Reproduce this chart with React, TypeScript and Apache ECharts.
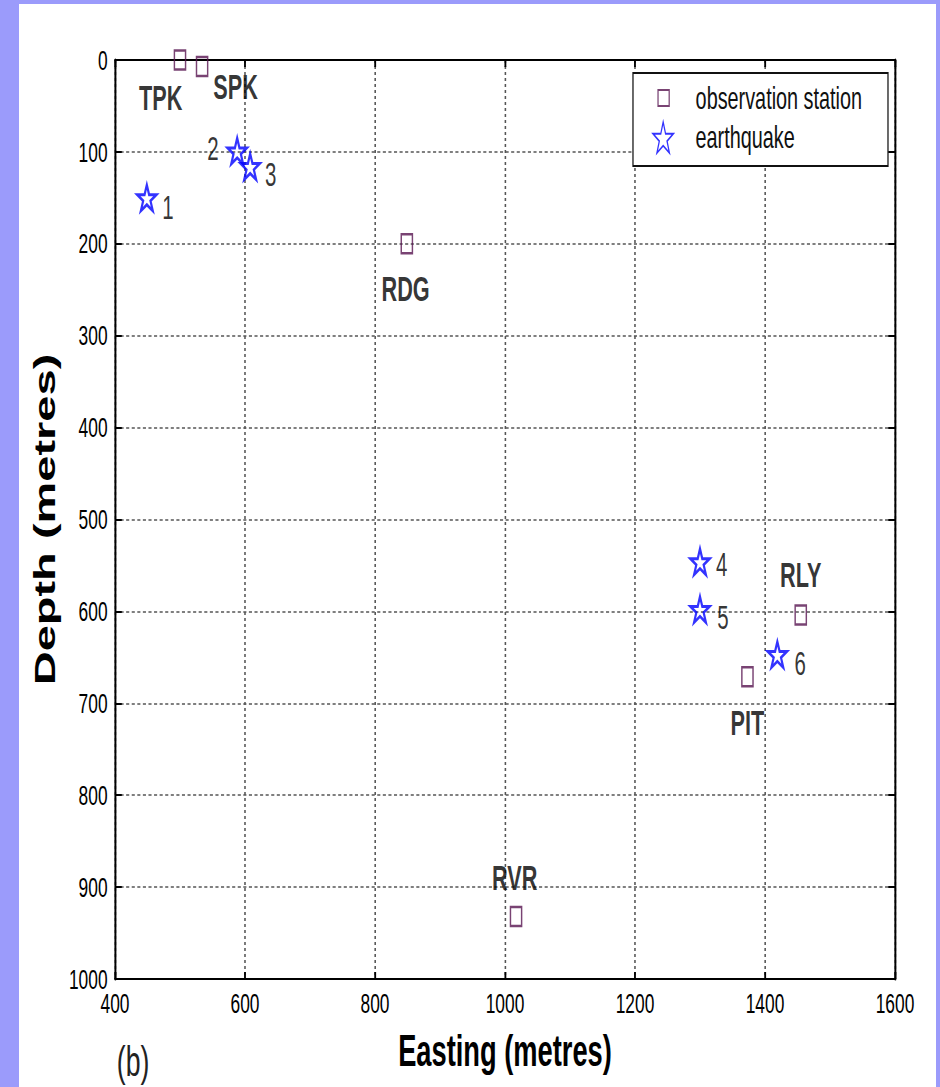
import React, { useEffect, useRef } from "react";
import * as echarts from "echarts";

// Observation stations: easting (m) and depth (m)
const stationNames = ["TPK", "SPK", "RDG", "RLY", "PIT", "RVR"];
const stationEasting = [500, 534, 849, 1455, 1373, 1017];
const stationDepth = [0, 7, 200, 604, 671, 932];

// Located earthquakes: easting (m) and depth (m)
const quakeNames = ["1", "2", "3", "4", "5", "6"];
const quakeEasting = [449, 588, 608, 1300, 1300, 1419];
const quakeDepth = [150, 99, 116, 546, 598, 647];

// Axis ranges / tick steps
const eastingRange = [400, 1600];
const eastingStep = 200;
const depthRange = [0, 1000];
const depthStep = 100;

// Label placement (offset from marker centre, chart px)
const stationLabelOffset: [number, number][] = [
  [-31, 38],
  [54, 21],
  [-2, 45],
  [0, -40],
  [0, 46],
  [-2, -39],
];
const quakeLabelOffset: [number, number][] = [
  [34, 10],
  [-39, -2],
  [33, 8],
  [35, 3],
  [37, 8],
  [37, 9],
];

// The figure is drawn in a wider canvas and squeezed horizontally
const SQUEEZE = 0.62;
const FRAME_W = 917;
const FRAME_H = 1083;
const CHART_W = FRAME_W / SQUEEZE;

const FONT = "'Liberation Sans', Arial, Helvetica, sans-serif";
const STAR =
  "path://M50 0 L61.23 34.55 L97.55 34.55 L68.17 55.9 L79.39 90.45 L50 69.1 L20.61 90.45 L31.83 55.9 L2.45 34.55 L38.77 34.55 Z";

const plainNumber = (v: number) => String(v);

export default function App() {
  const ref = useRef<HTMLDivElement>(null);

  useEffect(() => {
    if (!ref.current) return;
    const chart = echarts.init(ref.current, undefined, { renderer: "svg" });

    const gridLeft = 154.8;
    const gridRight = 66.1;
    const gridTop = 56;
    const gridBottom = 108;

    const axisLineH = { show: true, onZero: false, lineStyle: { color: "#000", width: 2 } };
    const axisLineV = { show: true, onZero: false, lineStyle: { color: "#000", width: 3.2 } };

    chart.setOption({
      animation: false,
      backgroundColor: "#ffffff",
      grid: { left: gridLeft, right: gridRight, top: gridTop, bottom: gridBottom },
      xAxis: [
        {
          type: "value",
          position: "bottom",
          min: eastingRange[0],
          max: eastingRange[1],
          interval: eastingStep,
          axisLine: axisLineH,
          axisTick: { show: true, inside: true, length: 7, lineStyle: { color: "#000", width: 3 } },
          axisLabel: { fontSize: 28, color: "#000", margin: 10, fontFamily: FONT, formatter: plainNumber },
          splitLine: { show: true, lineStyle: { color: "#555", type: [3, 3], width: 2.5 } },
          name: "Easting (metres)",
          nameLocation: "middle",
          nameGap: 50,
          nameTextStyle: { fontSize: 44, fontWeight: "bold", color: "#000", fontFamily: FONT },
        },
        {
          type: "value",
          position: "top",
          min: eastingRange[0],
          max: eastingRange[1],
          interval: eastingStep,
          axisLine: axisLineH,
          axisTick: { show: true, inside: true, length: 7, lineStyle: { color: "#000", width: 3 } },
          axisLabel: { show: false },
          splitLine: { show: false },
        },
      ],
      yAxis: [
        {
          type: "value",
          position: "left",
          inverse: true,
          min: depthRange[0],
          max: depthRange[1],
          interval: depthStep,
          axisLine: axisLineV,
          axisTick: { show: true, inside: true, length: 11, lineStyle: { color: "#000", width: 2 } },
          axisLabel: { fontSize: 28, color: "#000", margin: 12, fontFamily: FONT, formatter: plainNumber },
          splitLine: { show: true, lineStyle: { color: "#555", type: [5, 4], width: 1.6 } },
          name: "Depth (metres)",
          nameLocation: "middle",
          nameGap: 89,
          nameTextStyle: { fontSize: 47, fontWeight: "bold", color: "#000", fontFamily: FONT },
        },
        {
          type: "value",
          position: "right",
          inverse: true,
          min: depthRange[0],
          max: depthRange[1],
          interval: depthStep,
          axisLine: axisLineV,
          axisTick: { show: true, inside: true, length: 11, lineStyle: { color: "#000", width: 2 } },
          axisLabel: { show: false },
          splitLine: { show: false },
        },
      ],
      legend: [
        {
          data: ["observation station"],
          left: 1029.7,
          top: 78,
          padding: 0,
          itemWidth: 18,
          itemHeight: 16,
          selectedMode: false,
          textStyle: { fontSize: 32, color: "#111", fontFamily: FONT, padding: [0, 0, 0, 37.6] },
        },
        {
          data: ["earthquake"],
          left: 1021.7,
          top: 117,
          padding: 0,
          itemWidth: 33,
          itemHeight: 31,
          selectedMode: false,
          textStyle: { fontSize: 32, color: "#111", fontFamily: FONT, padding: [0, 0, 0, 30.6] },
        },
      ],
      graphic: [
        {
          type: "rect",
          z: 3,
          shape: { x: 990.3, y: 69, width: 411.3, height: 93 },
          style: { fill: "#fff", stroke: "#111", lineWidth: 2 },
        },
        {
          type: "text",
          x: 184,
          y: 1058,
          style: {
            text: "(b)",
            fontSize: 43,
            fill: "#222",
            fontFamily: FONT,
            textAlign: "center",
            textVerticalAlign: "middle",
          },
        },
      ],
      series: [
        {
          type: "scatter",
          name: "observation station",
          silent: true,
          symbol: "rect",
          symbolSize: [18, 19],
          itemStyle: { color: "rgba(0,0,0,0)", borderColor: "#581450", borderWidth: 2.4 },
          label: {
            show: true,
            position: "inside",
            formatter: (p: any) => p.name,
            fontSize: 35,
            fontWeight: "bold",
            color: "#000",
            fontFamily: FONT,
          },
          data: stationNames.map((n, i) => ({
            name: n,
            value: [stationEasting[i], stationDepth[i]],
            label: { offset: stationLabelOffset[i] },
          })),
        },
        {
          type: "scatter",
          name: "earthquake",
          silent: true,
          symbol: STAR,
          symbolSize: [31, 26],
          itemStyle: { color: "rgba(0,0,0,0)", borderColor: "#0000ff", borderWidth: 3.2 },
          label: {
            show: true,
            position: "inside",
            formatter: (p: any) => p.name,
            fontSize: 33,
            color: "#000",
            fontFamily: FONT,
          },
          data: quakeNames.map((n, i) => ({
            name: n,
            value: [quakeEasting[i], quakeDepth[i]],
            label: { offset: quakeLabelOffset[i] },
          })),
        },
      ],
    });

    return () => chart.dispose();
  }, []);

  return (
    <div
      style={{
        position: "absolute",
        left: 0,
        top: 0,
        width: 940,
        height: 1087,
        background: "#9b9bfb",
        overflow: "hidden",
      }}
    >
      <div
        style={{
          position: "absolute",
          left: 19,
          top: 4,
          width: FRAME_W,
          height: FRAME_H,
          background: "#fff",
          overflow: "hidden",
        }}
      >
        <div
          ref={ref}
          style={{
            width: CHART_W,
            height: FRAME_H,
            transform: `scaleX(${SQUEEZE})`,
            transformOrigin: "0 0",
          }}
        />
      </div>
    </div>
  );
}
